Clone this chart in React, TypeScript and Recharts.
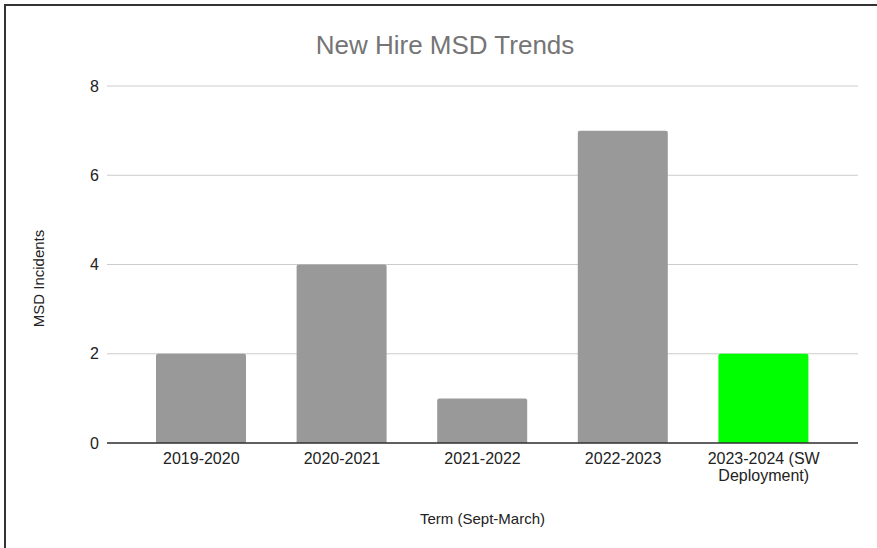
import { Bar, BarChart, CartesianGrid, Cell, Label, Text, XAxis, YAxis } from 'recharts';

const TERMS = ['2019-2020', '2020-2021', '2021-2022', '2022-2023', '2023-2024 (SW Deployment)'];
const INCIDENTS = [2, 4, 1, 7, 2];
const Y_TICKS = [0, 2, 4, 6, 8];

const BAR_COLORS = ['#999999', '#999999', '#999999', '#999999', '#00ff00'];
const FONT = '"Liberation Sans", Arial, sans-serif';

const data = TERMS.map((term, i) => ({ term, incidents: INCIDENTS[i] }));

function TermTick(props: any) {
  const { x, y, payload } = props;
  return (
    <Text
      x={x}
      y={y + 2}
      width={130}
      textAnchor="middle"
      verticalAnchor="start"
      lineHeight={17}
      fill="#222"
      fontSize={16}
      fontFamily={FONT}
    >
      {payload.value}
    </Text>
  );
}

export default function App() {
  return (
    <div style={{ position: 'fixed', left: 0, top: 0, width: 877, height: 548, background: '#fff', fontFamily: FONT }}>
      {/* frame edge */}
      <div style={{ position: 'absolute', left: 4, top: 4, right: 0, bottom: 0, borderLeft: '2px solid #333', borderTop: '2px solid #333' }} />
      <div style={{ position: 'absolute', left: 0, top: 30, width: 890, textAlign: 'center', fontSize: 26, color: '#757575' }}>
        New Hire MSD Trends
      </div>
      <div style={{ position: 'absolute', left: 0, top: 0 }}>
        <BarChart width={877} height={548} data={data} margin={{ top: 86, right: 19, bottom: 0, left: 0 }}>
          <CartesianGrid vertical={false} stroke="#cccccc" />
          <XAxis
            dataKey="term"
            interval={0}
            padding={{ left: 24, right: 24 }}
            tickLine={false}
            axisLine={{ stroke: '#333', strokeWidth: 1.5 }}
            tick={<TermTick />}
            height={105}
          >
            <Label value="Term (Sept-March)" position="insideBottom" offset={24} fill="#222" fontSize={15} fontFamily={FONT} />
          </XAxis>
          <YAxis
            width={107}
            domain={[0, 8]}
            ticks={Y_TICKS}
            tickLine={false}
            axisLine={false}
            tick={{ fill: '#222', fontSize: 16, fontFamily: FONT }}
          >
            <Label
              value="MSD Incidents"
              angle={-90}
              position="insideLeft"
              offset={39}
              dy={14}
              fill="#222"
              fontSize={15}
              fontFamily={FONT}
              style={{ textAnchor: 'middle' }}
            />
          </YAxis>
          <Bar dataKey="incidents" barSize={90} radius={[2, 2, 0, 0]} isAnimationActive={false}>
            {data.map((_, i) => (
              <Cell key={i} fill={BAR_COLORS[i]} />
            ))}
          </Bar>
        </BarChart>
      </div>
    </div>
  );
}
